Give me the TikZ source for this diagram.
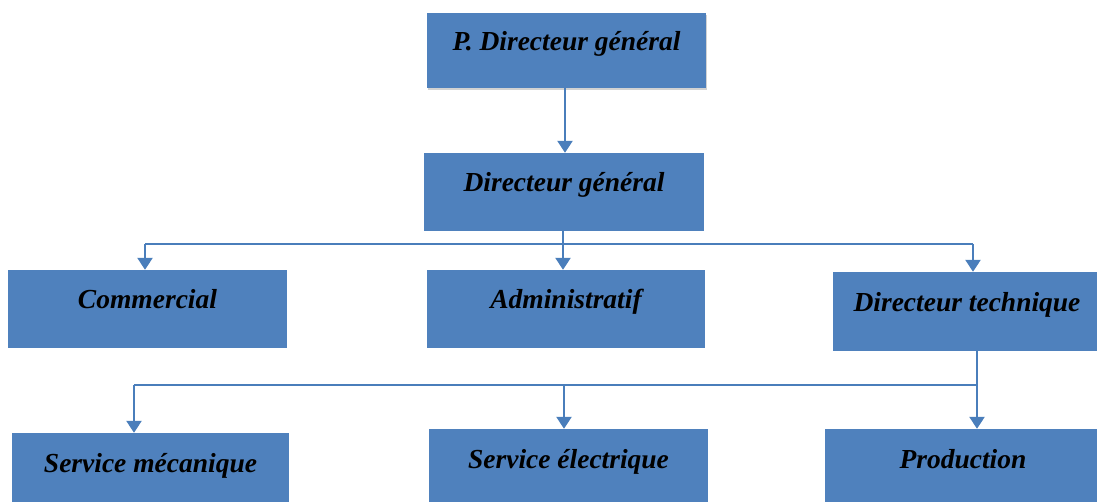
\documentclass[tikz,border=0pt]{standalone}
\usepackage{fontspec}
\setmainfont{Liberation Serif}
\usetikzlibrary{arrows.meta,shadows}
\definecolor{boxblue}{HTML}{4F81BD}
\definecolor{lineblue}{HTML}{4A7EBB}
\begin{document}
\begin{tikzpicture}[x=1pt,y=-1pt,
  orgbox/.style={rectangle, fill=boxblue, draw=none, inner sep=0pt,
    text height=12pt, text depth=12pt,
    font=\fontsize{27.5}{30}\selectfont\bfseries\itshape},
  conn/.style={draw=lineblue, line width=2.5pt},
  arr/.style={conn, -{Triangle[width=15pt,length=12pt]}}]
\useasboundingbox (0,0) rectangle (1097,502);

% boxes
\node[orgbox, minimum width=279pt, minimum height=75pt,
  drop shadow={shadow xshift=1pt, shadow yshift=-2pt, fill=black!35}]
  (pdg) at (566.5,50.5) {P. Directeur général};
\node[orgbox, minimum width=280pt, minimum height=78pt] (dg) at (564,192) {Directeur général};
\node[orgbox, minimum width=279pt, minimum height=78pt] (com) at (147.5,309) {Commercial};
\node[orgbox, minimum width=278pt, minimum height=78pt] (adm) at (566,309) {Administratif};
\node[orgbox, minimum width=268pt, minimum height=79pt] (dt) at (967,311.5) {Directeur technique};
\node[orgbox, minimum width=277pt, minimum height=78pt] (sm) at (150.5,472) {Service mécanique};
\node[orgbox, minimum width=279pt, minimum height=78pt] (se) at (568.5,468) {Service électrique};
\node[orgbox, minimum width=276pt, minimum height=78pt] (prod) at (963,468) {Production};

% first level
\draw[arr] (pdg.south -| 565,0) -- (565,0 |- dg.north);

% junctions of the two busses
\coordinate (j1) at (563,244);
\coordinate (c1l) at (145,244);
\coordinate (c1r) at (973,244);
\coordinate (j2) at (977,385);
\coordinate (c2l) at (134,385);
\coordinate (c2m) at (564,385);

% bus under the general director
\draw[conn] (dg.south -| j1) -- (j1);
\draw[conn] (c1l) -- (c1r);
\draw[arr] (c1l) -- (c1l |- com.north);
\draw[arr] (j1) -- (j1 |- adm.north);
\draw[arr] (c1r) -- (c1r |- dt.north);

% bus under the technical director
\draw[conn] (dt.south -| j2) -- (j2);
\draw[conn] (c2l) -- (j2);
\draw[arr] (c2l) -- (c2l |- sm.north);
\draw[arr] (c2m) -- (c2m |- se.north);
\draw[arr] (j2) -- (j2 |- prod.north);
\end{tikzpicture}
\end{document}
